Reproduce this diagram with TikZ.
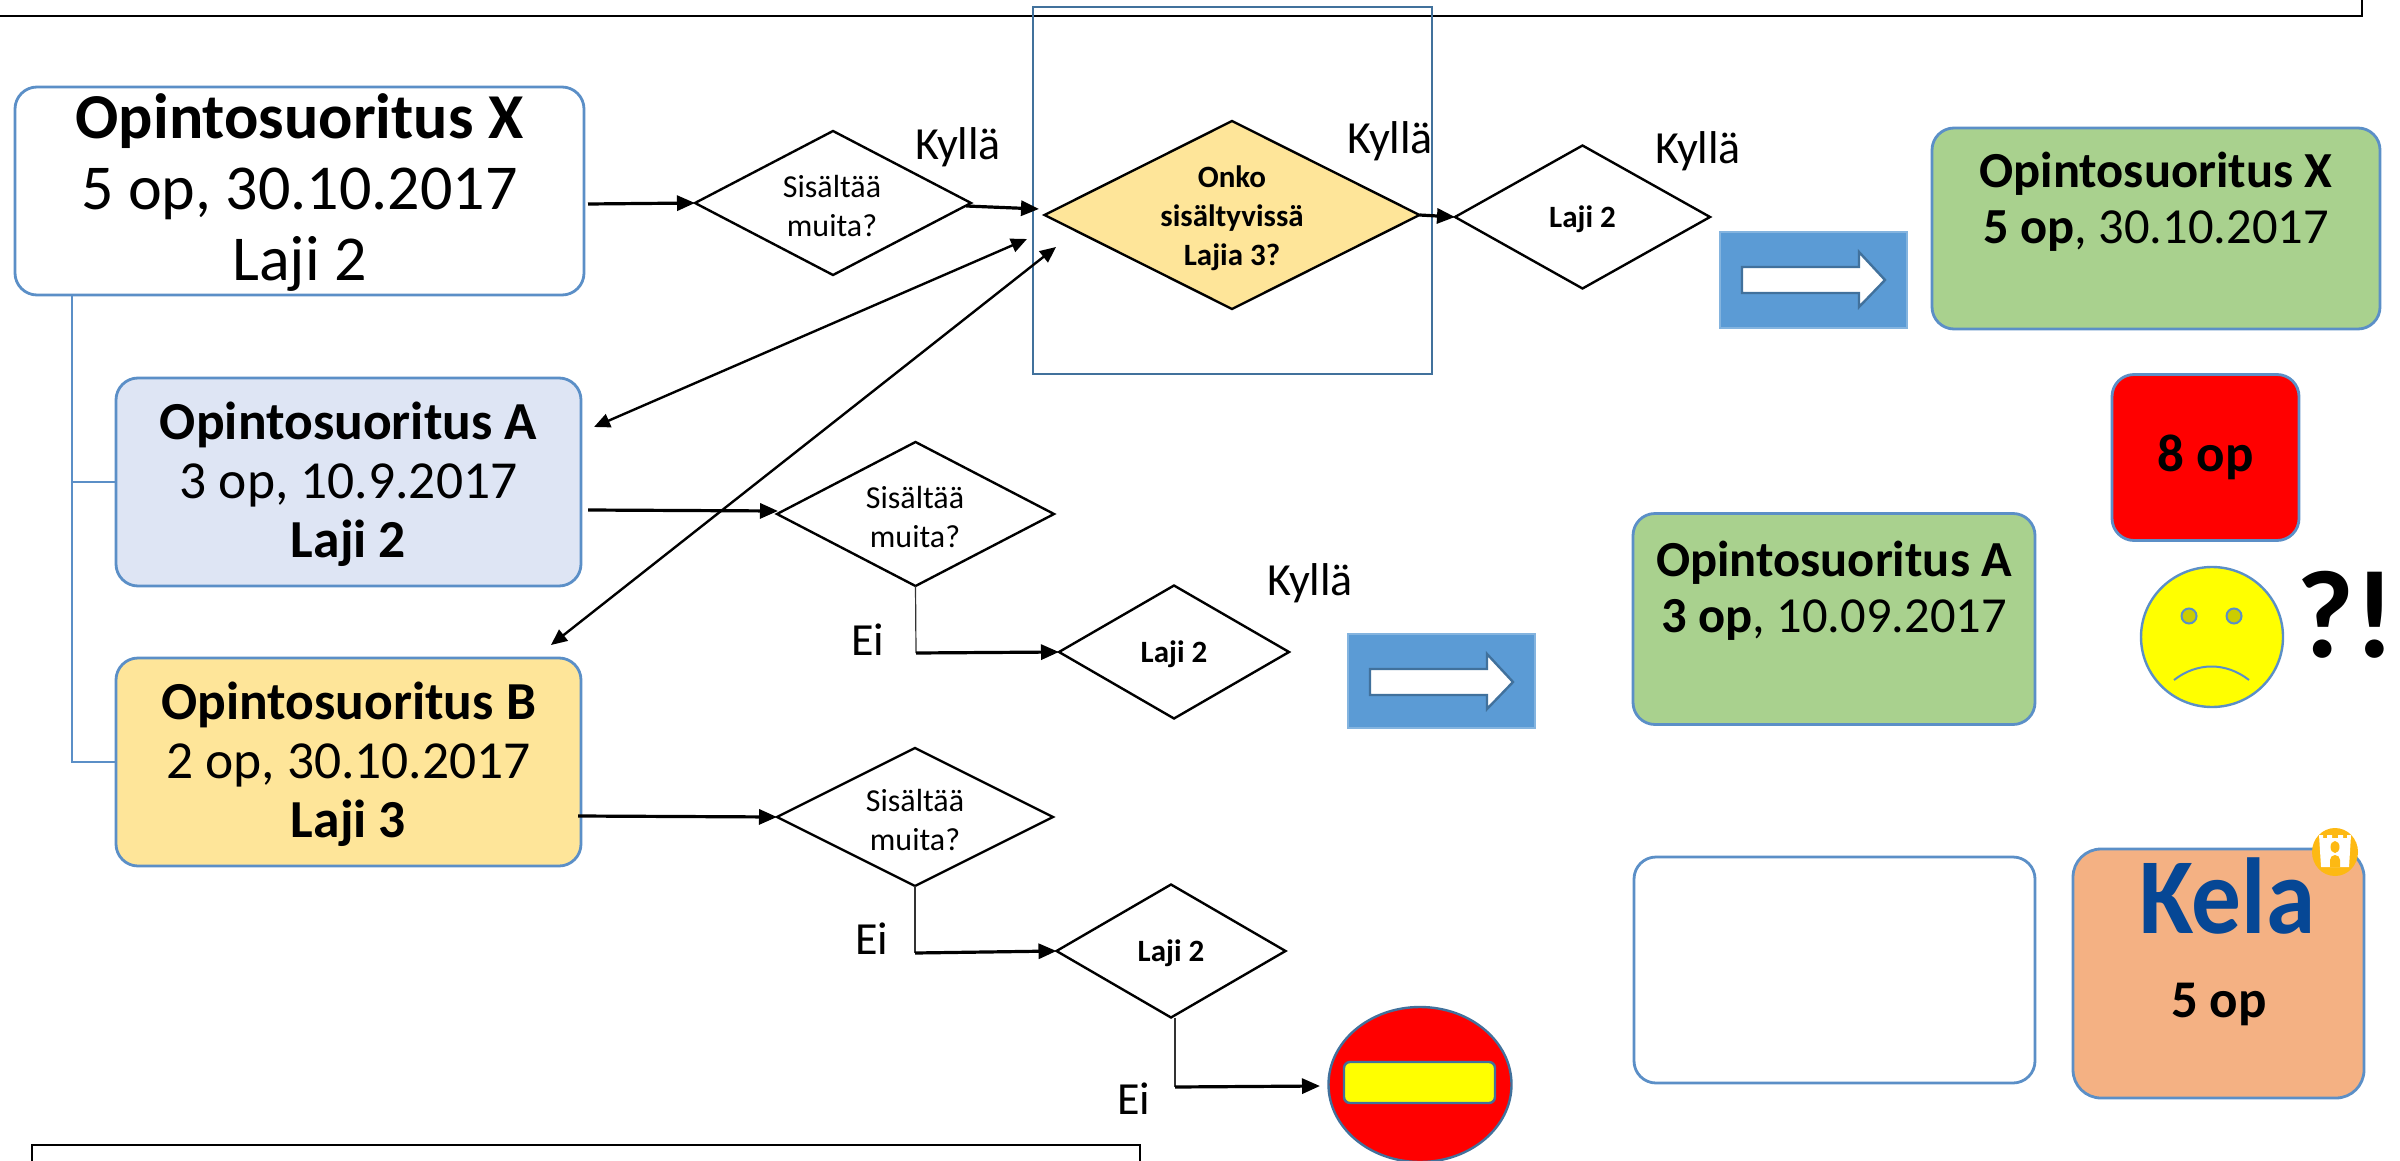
\documentclass[tikz,border=0pt]{standalone}
\usepackage{fontspec}
\setmainfont{Carlito}
\usetikzlibrary{arrows.meta,shapes.geometric}
\definecolor{edgeblue}{HTML}{5B8FC7}
\definecolor{frameblue}{HTML}{41719C}
\definecolor{fillblue}{HTML}{5B9BD5}
\definecolor{paleblue}{HTML}{DEE5F4}
\definecolor{paleyellow}{HTML}{FEE599}
\definecolor{leaf}{HTML}{A9D18E}
\definecolor{peach}{HTML}{F4B183}
\definecolor{kelablue}{HTML}{064795}
\definecolor{kelaorange}{HTML}{FDB913}
\definecolor{signred}{HTML}{FF0000}
\definecolor{signyellow}{HTML}{FFFF00}
\definecolor{eyefill}{HTML}{CCCC00}
\newcommand{\fs}[2]{\fontsize{#1}{#2}\selectfont}
\tikzset{
  x=1pt,y=-1pt,
  every node/.style={inner sep=0pt,outer sep=0pt},
  card/.style={draw=edgeblue,line width=2.8pt,rounded corners=22pt,align=center},
  dia/.style={diamond,draw=black,line width=2.4pt,inner sep=0pt,aspect=1.8},
  txt/.style={align=center,text=black},
  link/.style={draw=black,line width=3.2pt,-{Triangle[length=18pt,width=15pt]}},
  thin link/.style={draw=black,line width=2.4pt,{Triangle[length=16pt,width=14pt]}-{Triangle[length=16pt,width=14pt]}},
  drop/.style={draw=black!80,line width=1.2pt},
  tree/.style={draw=edgeblue,line width=2.8pt},
  outline/.style={draw=black,line width=2pt},
  word/.style={txt,font=\fs{46}{50}},
  bluepad/.style={fill=fillblue,draw=fillblue!75,line width=2pt},
  bigarrow/.pic={
    \path[draw=frameblue,fill=white,line width=2.4pt]
      (0,-13) -- (117,-13) -- (117,-28) -- (143,0) -- (117,27) -- (117,13) -- (0,13) -- cycle;
  },
}
\begin{document}
\begin{tikzpicture}
\useasboundingbox (0,0) rectangle (2400,1161);

% outer page fragments
\coordinate (tl) at (0,16);
\coordinate (tr) at (2362,16);
\coordinate (tt) at (2362,0);
\draw[outline] (tl) -- (tr) -- (tt);
\coordinate (bl) at (32,1161);
\coordinate (bc) at (32,1145);
\coordinate (bd) at (1140,1145);
\coordinate (be) at (1140,1161);
\draw[outline] (bl) -- (bc) -- (bd) -- (be);

% left cards
\node[card,fill=white,minimum width=569pt,minimum height=208pt] (x) at (299.5,191) {};
\node[txt,font=\fs{64}{71}] (xt) at (299.5,193) {\textbf{Opintosuoritus X}\\5 op, 30.10.2017\\Laji 2};
\node[card,fill=paleblue,minimum width=465pt,minimum height=208pt] (a) at (348.5,482) {};
\node[txt,font=\fs{53.5}{59}] (at) at (348.5,484) {\textbf{Opintosuoritus A}\\3 op, 10.9.2017\\\textbf{Laji 2}};
\node[card,fill=paleyellow,minimum width=465pt,minimum height=208pt] (b) at (348.5,762) {};
\node[txt,font=\fs{53.5}{59}] (bt) at (348.5,764) {\textbf{Opintosuoritus B}\\2 op, 30.10.2017\\\textbf{Laji 3}};
\coordinate (trunk) at (72,295);
\coordinate (trunkA) at (72,482);
\coordinate (trunkB) at (72,762);
\draw[tree] (trunk) -- (trunkB) -- (b.west);
\draw[tree] (trunkA) -- (a.west);

% frame
\node[draw=frameblue,line width=2.8pt,minimum width=399pt,minimum height=367pt] (frame) at (1232.5,190.5) {};

% diamonds
\node[dia,fill=white,minimum width=276pt,minimum height=144pt] (d1) at (833,203) {};
\node[txt,font=\fs{32}{39}] (d1t) at (832,206) {Sisältää\\muita?};
\node[dia,fill=paleyellow,minimum width=375pt,minimum height=188pt] (y) at (1232,215) {};
\node[txt,font=\bfseries\fs{31}{39}] (yt) at (1232,218) {Onko\\sisältyvissä\\Lajia 3?};
\node[dia,fill=white,minimum width=255pt,minimum height=143pt] (l1) at (1582.5,217) {};
\node[txt,font=\bfseries\fs{31}{34}] (l1t) at (1582.5,219) {Laji 2};
\node[dia,fill=white,minimum width=277pt,minimum height=144pt] (d2) at (915.5,514) {};
\node[txt,font=\fs{32}{39}] (d2t) at (915,517) {Sisältää\\muita?};
\node[dia,fill=white,minimum width=230pt,minimum height=133pt] (l2) at (1174,652) {};
\node[txt,font=\bfseries\fs{31}{34}] (l2t) at (1174,654) {Laji 2};
\node[dia,fill=white,minimum width=276pt,minimum height=138pt] (d3) at (915,817) {};
\node[txt,font=\fs{32}{39}] (d3t) at (915,820) {Sisältää\\muita?};
\node[dia,fill=white,minimum width=229pt,minimum height=133pt] (l3) at (1171,951) {};
\node[txt,font=\bfseries\fs{31}{34}] (l3t) at (1171,953) {Laji 2};

% connectors
\coordinate (xout) at (588,204);
\draw[link] (xout) -- (d1.west);
\coordinate (d1out) at (966,206);
\coordinate (yin) at (1039,209);
\draw[link] (d1out) -- (yin);
\coordinate (ax) at (594,427);
\coordinate (ay) at (1027,239);
\draw[thin link] (ax) -- (ay);
\coordinate (bx) at (551,645);
\coordinate (by) at (1056,247);
\draw[thin link] (bx) -- (by);
\draw[link] (y.east) -- (l1.west);
\coordinate (aout) at (588,510);
\coordinate (d2in) at (778,511);
\draw[link] (aout) -- (d2in);
\coordinate (bout) at (578,816);
\draw[link] (bout) -- (d3.west);
\coordinate (e2) at (916,653);
\draw[drop] (d2.south) -- (e2);
\draw[link] (e2) -- (l2.west);
\coordinate (e3) at (915,953);
\draw[drop] (d3.south) -- (e3);
\draw[link] (e3) -- (l3.west);
\coordinate (e4) at (1175,1087);
\coordinate (stopin) at (1320,1086);
\draw[drop] (l3.south -| e4) -- (e4);
\draw[link] (e4) -- (stopin);

% labels
\node[word] (k1) at (958,147) {Kyllä};
\node[word] (k2) at (1390,141) {Kyllä};
\node[word] (k3) at (1698,151) {Kyllä};
\node[word] (k4) at (1310,583) {Kyllä};
\node[word] (e1t) at (868,640) {Ei};
\node[word] (e2t) at (872,939) {Ei};
\node[word] (e3t) at (1134,1099) {Ei};

% blue pads with arrows
\node[bluepad,minimum width=187pt,minimum height=96pt] (p1) at (1813.5,280) {};
\path (1742,280) pic {bigarrow};
\node[bluepad,minimum width=187pt,minimum height=94pt] (p2) at (1441.5,681) {};
\path (1370,682) pic {bigarrow};

% right cards
\node[card,fill=leaf,minimum width=448pt,minimum height=201pt] (gx) at (2156,228.5) {};
\node[txt,font=\fs{50.5}{56}] (gxt) at (2156,202) {\textbf{Opintosuoritus X}\\\textbf{5 op}, 30.10.2017};
\node[card,fill=leaf,minimum width=402pt,minimum height=211pt] (ga) at (1834,619) {};
\node[txt,font=\fs{50.5}{56}] (gat) at (1834,591) {\textbf{Opintosuoritus A}\\\textbf{3 op}, 10.09.2017};
\node[card,fill=signred,minimum width=187pt,minimum height=166pt,font=\bfseries\fs{53}{56}] (r8) at (2205.5,457.5) {8 op};

% smiley
\node[ellipse,draw=edgeblue,line width=2.4pt,fill=signyellow,minimum width=142pt,minimum height=140pt] (face) at (2212,637) {};
\node[ellipse,draw=edgeblue,line width=2pt,fill=eyefill,minimum size=15pt] (el) at (2189,616) {};
\node[ellipse,draw=edgeblue,line width=2pt,fill=eyefill,minimum size=15pt] (er) at (2234,616) {};
\coordinate (ml) at (2174,680);
\coordinate (mr) at (2249,680);
\draw[edgeblue,line width=2pt] (ml) .. controls (2197,662) and (2226,662) .. (mr);
\node[txt,font=\bfseries\fs{125}{130}] (wow) at (2346,615) {?!};

% bottom right
\node[card,fill=white,minimum width=401pt,minimum height=226pt] (blank) at (1834.5,970) {};
\node[card,fill=peach,rounded corners=28pt,minimum width=291pt,minimum height=249pt] (kela) at (2218.5,973.5) {};
\node[anchor=base,font=\bfseries\fs{108}{110},text=kelablue,xscale=.92] (kelat) at (2227,933) {Kela};
\node[txt,font=\bfseries\fs{53}{56}] (kop) at (2219,1004) {5 op};
\node[ellipse,fill=kelaorange,minimum width=46pt,minimum height=48pt] (emblem) at (2335,852) {};
\path[fill=white] (2319,835) -- (2323,835) -- (2323,838) -- (2327,838) -- (2327,835) -- (2332,835) -- (2332,838) -- (2338,838) -- (2338,835) -- (2343,835) -- (2343,838) -- (2347,838) -- (2347,835) -- (2351,835) -- (2349,867) -- (2321,867) -- cycle;
\path[fill=kelaorange] (2330,867) -- (2330,860) arc[start angle=180,end angle=0,x radius=5,y radius=-5] -- (2340,867) -- cycle;
\node[ellipse,fill=kelaorange,minimum width=9pt,minimum height=12pt] (emblemw) at (2335,847) {};

% no-entry sign
\node[ellipse,draw=frameblue,line width=2.4pt,fill=signred,minimum width=183pt,minimum height=155pt] (stop) at (1420,1084.5) {};
\node[draw=frameblue,line width=2.4pt,fill=signyellow,rounded corners=6pt,minimum width=151pt,minimum height=41pt] (bar) at (1419.5,1082.5) {};
\end{tikzpicture}
\end{document}
